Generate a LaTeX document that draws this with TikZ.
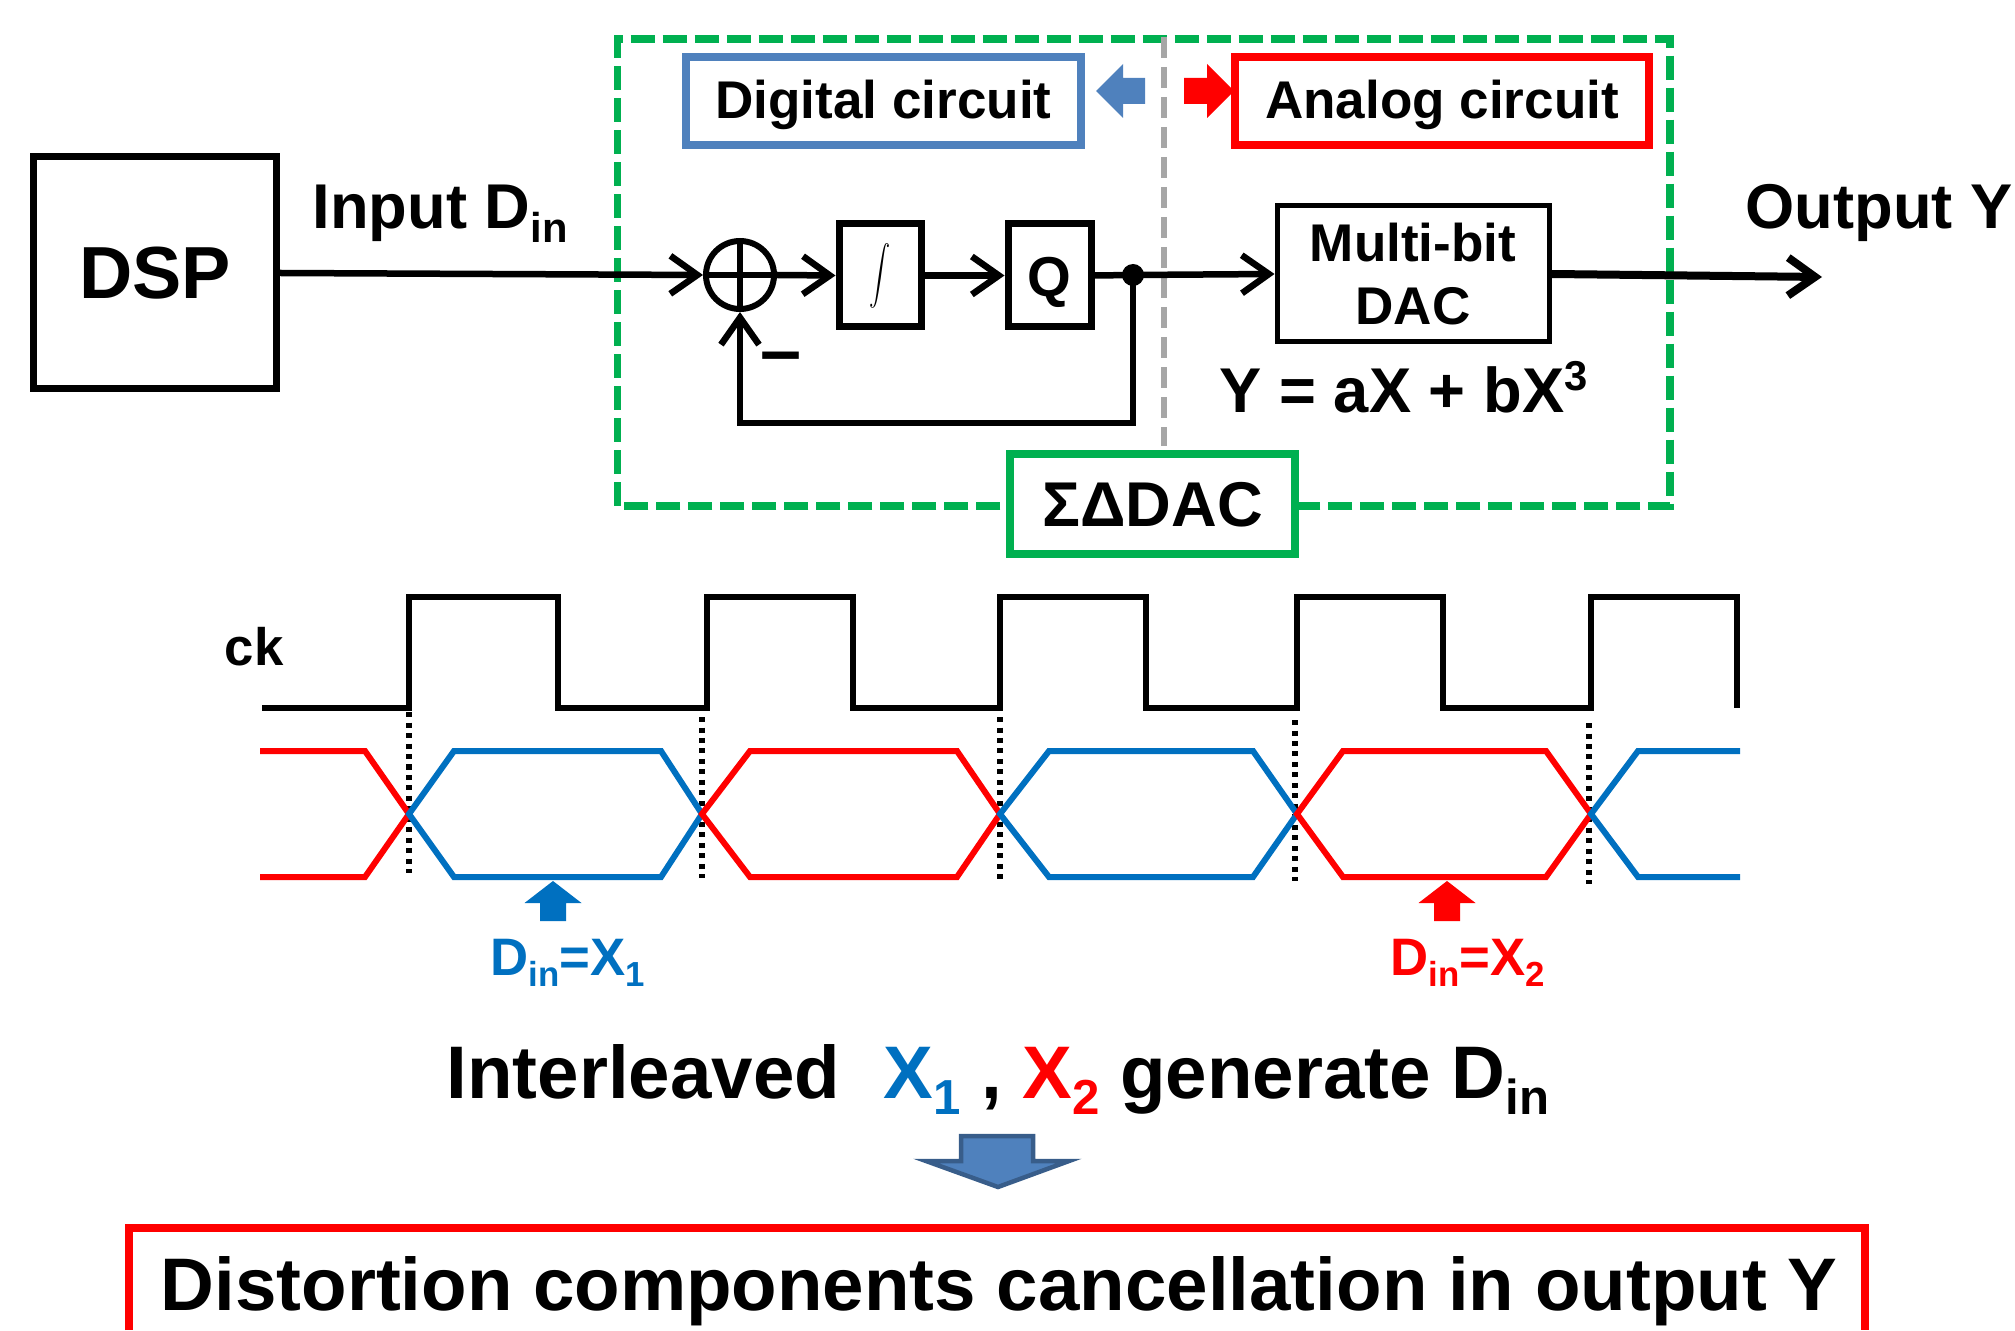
\documentclass[tikz,border=0pt]{standalone}
\usepackage{fontspec}
\setmainfont{Liberation Sans}
\usepackage{xcolor}
\usetikzlibrary{arrows.meta,positioning}
\definecolor{dacblue}{HTML}{0070C0}
\definecolor{dacred}{HTML}{FF0000}
\definecolor{dacgreen}{HTML}{00B050}
\definecolor{dacsteel}{HTML}{4F81BD}
\definecolor{dacnavy}{HTML}{385D8A}
\definecolor{dacgray}{HTML}{A6A6A6}
\newcommand{\lowsub}[1]{\raisebox{-0.22em}{\scalebox{0.66}{#1}}}
\newcommand{\highsup}[1]{\raisebox{0.36em}{\scalebox{0.66}{#1}}}
\tikzset{
  sigline/.style={-{Straight Barb[length=0.27cm,width=0.38cm]}, line width=0.065cm},
  blockbox/.style={draw, line width=0.07cm, inner sep=0pt, text height=0.43cm, text depth=0pt},
  titlebox/.style={draw, line width=0.08cm, inner sep=0pt, minimum height=0.88cm, text height=0.36cm, text depth=0pt, font=\bfseries\fontsize{15.1}{17}\selectfont},
  siglabel/.style={anchor=base west, inner sep=0pt, font=\bfseries\fontsize{18}{21}\selectfont},
  wavelabel/.style={anchor=base west, inner sep=0pt, font=\bfseries\fontsize{15}{18}\selectfont},
  wave/.style={line width=0.06cm}
}

\begin{document}
\begin{tikzpicture}[x=1cm,y=1cm]
  \useasboundingbox (0,0) rectangle (20.15,13.30);

  \draw[dacgreen, line width=0.075cm, dash pattern=on 0.24cm off 0.08cm] (6.175,8.24) rectangle (16.70,12.91);
  \draw[dacgray, line width=0.06cm, dash pattern=on 0.21cm off 0.09cm] (11.64,12.93) -- (11.64,8.84);

  \node[titlebox, draw=dacsteel, minimum width=3.95cm] (digital) at (8.835,12.29) {Digital circuit};
  \node[titlebox, draw=dacred, minimum width=4.14cm] (analog) at (14.42,12.29) {Analog circuit};
  \fill[dacsteel] (11.45,12.26) -- (11.45,12.52) -- (11.23,12.52) -- (11.23,12.66) -- (10.96,12.39) -- (11.23,12.12) -- (11.23,12.26) -- cycle;
  \fill[dacred] (11.84,12.26) -- (11.84,12.52) -- (12.07,12.52) -- (12.07,12.66) -- (12.34,12.39) -- (12.07,12.12) -- (12.07,12.26) -- cycle;

  \node[draw, line width=0.07cm, inner sep=0pt, minimum width=2.43cm, minimum height=2.32cm, font=\bfseries\fontsize{21}{24}\selectfont] (dsp) at (1.55,10.57) {DSP};
  \node[circle, draw, line width=0.06cm, inner sep=0pt, minimum size=0.68cm] (summer) at (7.40,10.55) {};
  \draw[line width=0.055cm] (summer.north) -- (summer.south);
  \draw[line width=0.055cm] (summer.west) -- (summer.east);
  \node[blockbox, minimum width=0.82cm, minimum height=1.03cm, text height=, text depth=] (integ) at (8.80,10.545) {\scalebox{0.6}[0.83]{$\displaystyle\int$}};
  \node[blockbox, minimum width=0.83cm, minimum height=1.03cm, font=\bfseries\fontsize{16}{18}\selectfont] (quant) at (10.495,10.545) {Q};
  \node[circle, fill, inner sep=0pt, minimum size=0.22cm] (tap) at (11.33,10.55) {};
  \node[draw, line width=0.05cm, inner sep=0pt, minimum width=2.72cm, minimum height=1.36cm, align=center, font=\bfseries\fontsize{15.1}{17.9}\selectfont] (dac) at (14.13,10.56) {Multi-bit\\DAC};
  \coordinate (out) at (18.22,10.53);
  \coordinate (fbturn) at (11.33,9.07);

  \draw[sigline] (dsp.east) -- (summer.west);
  \draw[sigline] (summer.east) -- (integ.west);
  \draw[sigline] (integ.east) -- (quant.west);
  \draw[line width=0.065cm] (quant.east) -- (tap.center);
  \draw[sigline] (tap.center) -- (dac.west);
  \draw[sigline, line width=0.08cm] (dac.east) -- (out);
  \draw[sigline] (tap.center) -- (fbturn) -| (summer.south);

  \node[siglabel] (input) at (3.12,11.01) {Input D\lowsub{in}};
  \node[siglabel] (output) at (17.45,11.01) {Output Y};
  \node[anchor=base, inner sep=0pt, font=\bfseries\fontsize{21}{24}\selectfont] (minus) at (7.815,9.54) {–};
  \node[siglabel] (transfer) at (12.19,9.17) {Y = aX + bX\highsup{3}};
  \node[draw=dacgreen, fill=white, line width=0.075cm, inner sep=0pt, minimum width=2.85cm, minimum height=1.00cm, text height=0.46cm, text depth=0pt, font=\bfseries\fontsize{18}{21}\selectfont] (sdac) at (11.525,8.26) {ΣΔDAC};

  \node[wavelabel] (cklabel) at (2.24,6.65) {ck};
  \draw[line width=0.06cm] (2.62,6.22) -- (4.09,6.22) -- (4.09,7.33) -- (5.58,7.33) -- (5.58,6.22) -- (7.07,6.22) -- (7.07,7.33) -- (8.53,7.33) -- (8.53,6.22) -- (10.00,6.22) -- (10.00,7.33) -- (11.46,7.33) -- (11.46,6.22) -- (12.97,6.22) -- (12.97,7.33) -- (14.43,7.33) -- (14.43,6.22) -- (15.91,6.22) -- (15.91,7.33) -- (17.37,7.33) -- (17.37,6.22);

  \foreach \x/\ytop/\ybot in {4.09/6.18/4.57,7.02/6.13/4.52,10.00/6.13/4.51,12.95/6.10/4.49,15.89/6.07/4.46} {
    \draw[line width=0.06cm, dash pattern=on 0.05cm off 0.055cm] (\x,\ytop) -- (\x,\ybot);
  }

  \draw[wave, dacred] (2.60,5.79) -- (3.65,5.79) -- (4.09,5.16) -- (3.65,4.53) -- (2.60,4.53);
  \foreach \a/\b/\c/\d/\col in {4.09/4.54/6.61/7.02/dacblue,7.02/7.50/9.57/10.00/dacred,10.00/10.49/12.53/12.97/dacblue,12.97/13.43/15.46/15.91/dacred} {
    \draw[wave, \col] (\a,5.16) -- (\b,5.79) -- (\c,5.79) -- (\d,5.16) -- (\c,4.53) -- (\b,4.53) -- cycle;
  }
  \draw[wave, dacblue] (17.40,5.79) -- (16.38,5.79) -- (15.91,5.16) -- (16.38,4.53) -- (17.40,4.53);

  \foreach \x/\col in {5.53/dacblue,14.47/dacred} {
    \fill[\col] (\x,4.49) -- (\x+0.285,4.27) -- (\x+0.13,4.27) -- (\x+0.13,4.09) -- (\x-0.13,4.09) -- (\x-0.13,4.27) -- (\x-0.285,4.27) -- cycle;
  }
  \node[wavelabel, text=dacblue] (xone) at (4.90,3.55) {D\lowsub{in}=X\lowsub{1}};
  \node[wavelabel, text=dacred] (xtwo) at (13.90,3.55) {D\lowsub{in}=X\lowsub{2}};

  \node[anchor=base west, inner sep=0pt, font=\bfseries\fontsize{21.2}{24}\selectfont] (interleave) at (4.46,2.32) {Interleaved\hspace{0.58em}\textcolor{dacblue}{X\lowsub{1}} , \textcolor{dacred}{X\lowsub{2}} generate D\lowsub{in}};
  \draw[dacnavy, fill=dacsteel, line width=0.045cm] (9.61,1.94) -- (10.33,1.94) -- (10.33,1.69) -- (10.69,1.69) -- (9.98,1.43) -- (9.26,1.69) -- (9.61,1.69) -- cycle;

  \node[anchor=base, inner sep=0pt, font=\bfseries\fontsize{21.2}{24}\selectfont] (result) at (9.99,0.20) {Distortion components cancellation in output Y};
  \draw[dacred, line width=0.08cm] (1.29,0) |- (18.65,1.02) -- (18.65,0);
\end{tikzpicture}
\end{document}
